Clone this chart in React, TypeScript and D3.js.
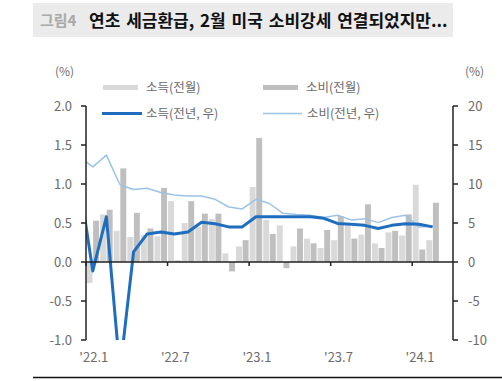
import React from "react";
import * as d3 from "d3";

// Months (Dec-21 only used to carry the lines in from the left edge, clipped)
const months = [
  "21.12",
  "22.1", "22.2", "22.3", "22.4", "22.5", "22.6", "22.7", "22.8", "22.9", "22.10", "22.11", "22.12",
  "23.1", "23.2", "23.3", "23.4", "23.5", "23.6", "23.7", "23.8", "23.9", "23.10", "23.11", "23.12",
  "24.1", "24.2", "24.3",
];

// 소득(전월) MoM %, left axis
const incomeMoM = [
  null,
  -0.27, 0.61, 0.40, 0.32, 0.35, 0.33, 0.78, 0.50, 0.45, 0.55, 0.11, 0.20,
  0.96, 0.54, 0.47, 0.20, 0.30, 0.18, 0.28, 0.47, 0.35, 0.24, 0.38, 0.34,
  0.99, 0.28, null,
];

// 소비(전월) MoM %, left axis
const consMoM = [
  null,
  0.53, 0.67, 1.20, 0.63, 0.43, 0.95, 0.02, 0.78, 0.62, 0.62, -0.12, 0.28,
  1.59, 0.36, -0.08, 0.43, 0.24, 0.41, 0.59, 0.30, 0.74, 0.18, 0.40, 0.61,
  0.16, 0.76, null,
];

// 소득(전년, 우) YoY %, right axis
const incomeYoY = [
  10.35,
  -1.15, 5.8, -14.0, 1.3, 3.6, 3.85, 3.6, 3.85, 5.1, 4.9, 4.5, 4.5,
  5.8, 5.8, 5.8, 5.8, 5.8, 5.6, 4.95, 4.85, 4.7, 4.3, 4.7, 4.9,
  4.85, 4.5, null,
];

// 소비(전년, 우) YoY %, right axis
const consYoY = [
  13.5,
  12.2, 13.7, 9.9, 9.3, 9.45, 8.9, 8.6, 8.46, 8.46, 8.04, 7.05, 6.8,
  8.04, 7.5, 6.24, 6.1, 6.0, 5.7, 6.0, 5.4, 5.56, 5.05, 5.7, 6.0,
  4.5, 4.6, null,
];

const leftTicks = [2.0, 1.5, 1.0, 0.5, 0.0, -0.5, -1.0];
const rightTicks = [20, 15, 10, 5, 0, -5, -10];
const xTickMonths = ["22.1", "22.7", "23.1", "23.7", "24.1"];
const xTickLabels = ["'22.1", "'22.7", "'23.1", "'23.7", "'24.1"];

const FONT = "'Noto Sans CJK KR', 'Noto Sans', sans-serif";
const C_INC_BAR = "#d9d9d9";
const C_CONS_BAR = "#bfbfbf";
const C_INC_LINE = "#1f6dbf";
const C_CONS_LINE = "#9cc3e6";
const C_TEXT = "#6b6b6b";

export default function App() {
  const W = 502, H = 381;
  const L = 86, R = 453, T = 106, B = 340;
  const bw = (R - L) / 27;

  const x = d3.scaleBand<string>().domain(months).range([L - bw, R]).paddingInner(0).paddingOuter(0);
  const sub = d3.scaleBand<string>().domain(["inc", "cons"]).range([0, x.bandwidth()]).paddingInner(0.1).paddingOuter(0.08);
  const yL = d3.scaleLinear().domain([-1, 2]).range([B, T]);
  const yR = d3.scaleLinear().domain([-10, 20]).range([B, T]);

  const cx = (i: number) => (x(months[i]) as number) + x.bandwidth() / 2;

  const line = d3
    .line<number | null>()
    .defined((d) => d != null)
    .x((_, i) => cx(i))
    .y((d) => yR(d as number));

  const bars: React.ReactNode[] = [];
  months.forEach((m, i) => {
    const x0 = x(m) as number;
    const vi = incomeMoM[i];
    const vc = consMoM[i];
    if (vi != null) {
      bars.push(
        <rect key={"i" + i} x={x0 + (sub("inc") as number)} width={sub.bandwidth()}
          y={Math.min(yL(vi), yL(0))} height={Math.abs(yL(vi) - yL(0))} fill={C_INC_BAR} />
      );
    }
    if (vc != null) {
      bars.push(
        <rect key={"c" + i} x={x0 + (sub("cons") as number)} width={sub.bandwidth()}
          y={Math.min(yL(vc), yL(0))} height={Math.abs(yL(vc) - yL(0))} fill={C_CONS_BAR} />
      );
    }
  });

  return (
    <svg width={W} height={H} style={{ position: "absolute", left: 0, top: 0, background: "#fff" }} fontFamily={FONT}>
      <defs>
        <clipPath id="plot">
          <rect x={L} y={T - 10} width={R - L} height={B - T + 10} />
        </clipPath>
      </defs>

      {/* Title */}
      <rect x={33} y={3} width={420} height={34} fill="#ebebeb" />
      <text x={40} y={26} fontSize={15} fontWeight="bold" fill="#a9a9a9">그림4</text>
      <text x={89} y={26.5} fontSize={17} fontWeight="bold" fill="#111" wordSpacing={2}>연초 세금환급, 2월 미국 소비강세 연결되었지만...</text>

      {/* unit labels */}
      <text x={55} y={76} fontSize={12} fill={C_TEXT}>(%)</text>
      <text x={465} y={76} fontSize={12} fill={C_TEXT}>(%)</text>

      {/* bars */}
      <g clipPath="url(#plot)">{bars}</g>

      {/* lines */}
      <g clipPath="url(#plot)">
        <path d={line(consYoY) || ""} fill="none" stroke={C_CONS_LINE} strokeWidth={1.5} strokeLinejoin="round" />
        <path d={line(incomeYoY) || ""} fill="none" stroke={C_INC_LINE} strokeWidth={3} strokeLinejoin="round" />
      </g>

      {/* x axis at zero */}
      <line x1={L} x2={R} y1={yL(0)} y2={yL(0)} stroke="#222" strokeWidth={1.5} />
      {xTickMonths.map((m) => (
        <line key={m} x1={x(m) as number} x2={x(m) as number} y1={yL(0)} y2={yL(0) + 4} stroke="#222" strokeWidth={1.5} />
      ))}
      {xTickMonths.map((m, k) => (
        <text key={"l" + m} x={(x(m) as number) + x.bandwidth() / 2 + 1} y={362} fontSize={13} textAnchor="middle" fill={C_TEXT}>
          {xTickLabels[k]}
        </text>
      ))}

      {/* left axis */}
      <line x1={L} x2={L} y1={T} y2={B} stroke="#222" strokeWidth={1.5} />
      {leftTicks.map((t) => (
        <g key={"lt" + t}>
          <line x1={L - 5} x2={L} y1={yL(t)} y2={yL(t)} stroke="#222" strokeWidth={1.5} />
          <text x={72} y={yL(t)} dy="0.35em" fontSize={13} textAnchor="end" fill={C_TEXT}>
            {t.toFixed(1)}
          </text>
        </g>
      ))}

      {/* right axis */}
      <line x1={R} x2={R} y1={T} y2={B} stroke="#222" strokeWidth={1.5} />
      {rightTicks.map((t) => (
        <g key={"rt" + t}>
          <line x1={R} x2={R + 5} y1={yR(t)} y2={yR(t)} stroke="#222" strokeWidth={1.5} />
          <text x={468} y={yR(t)} dy="0.35em" fontSize={13} textAnchor="start" fill={C_TEXT}>
            {t}
          </text>
        </g>
      ))}

      {/* legend */}
      <rect x={103} y={85} width={35} height={5} fill={C_INC_BAR} />
      <text x={146} y={92} fontSize={12.5} fill={C_TEXT}>소득(전월)</text>
      <rect x={263} y={85} width={35} height={5} fill={C_CONS_BAR} />
      <text x={306} y={92} fontSize={12.5} fill={C_TEXT}>소비(전월)</text>
      <line x1={102} x2={142} y1={113.5} y2={113.5} stroke={C_INC_LINE} strokeWidth={3} />
      <text x={146} y={118} fontSize={12.5} fill={C_TEXT}>소득(전년, 우)</text>
      <line x1={263} x2={302} y1={113.5} y2={113.5} stroke={C_CONS_LINE} strokeWidth={1.5} />
      <text x={307} y={118} fontSize={12.5} fill={C_TEXT}>소비(전년, 우)</text>

      {/* bottom rule */}
      <line x1={33} x2={502} y1={377.5} y2={377.5} stroke="#111" strokeWidth={1.5} />
    </svg>
  );
}
